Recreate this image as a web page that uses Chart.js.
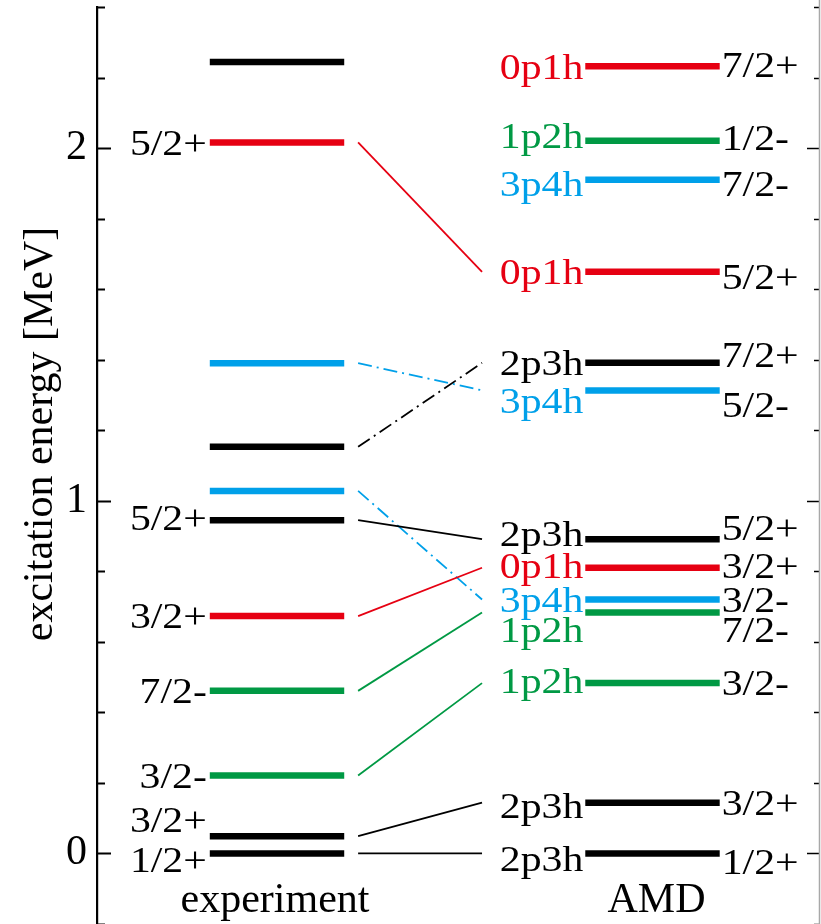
<!DOCTYPE html>
<html>
<head>
<meta charset="utf-8">
<script src="https://cdn.jsdelivr.net/npm/chart.js@4.4.0/dist/chart.umd.min.js"></script>
<style>
  html, body { margin: 0; padding: 0; background: #fff; }
  #wrap { width: 821px; height: 924px; }
</style>
</head>
<body>
<div id="wrap"><canvas id="grafico" width="821" height="924"></canvas></div>
<script>
// experimental levels [MeV], spin-parity and the configuration they are assigned to
const expEnergy = [0, 0.049, 0.221, 0.461, 0.673, 0.945, 1.028, 1.153, 1.390, 2.016, 2.244];
const expSpin   = ['1/2+', '3/2+', '3/2-', '7/2-', '3/2+', '5/2+', '', '', '', '5/2+', ''];
const expConfig = ['2p3h', '2p3h', '1p2h', '1p2h', '0p1h', '2p3h', '3p4h', '2p3h', '3p4h', '0p1h', ''];

// AMD levels [MeV]
const amdEnergy = [0, 0.144, 0.483, 0.683, 0.720, 0.810, 0.891, 1.313, 1.391, 1.649, 1.910, 2.021, 2.232];
const amdSpin   = ['1/2+', '3/2+', '3/2-', '7/2-', '3/2-', '3/2+', '5/2+', '5/2-', '7/2+', '5/2+', '7/2-', '1/2-', '7/2+'];
const amdConfig = ['2p3h', '2p3h', '1p2h', '1p2h', '3p4h', '0p1h', '2p3h', '3p4h', '2p3h', '0p1h', '3p4h', '1p2h', '0p1h'];

// experiment index -> AMD index
const links = [[0, 0], [1, 1], [2, 2], [3, 3], [4, 5], [5, 6], [6, 4], [7, 8], [8, 7], [9, 9]];

const yTicks = { min: -0.2, max: 2.4, step: 0.2 };

const colores = { '0p1h': '#e60012', '1p2h': '#009944', '2p3h': '#000000', '3p4h': '#00a0e9', '': '#000000' };

// layout (x in column units)
const EXP_X = 1, AMD_X = 2, BAR_HALF = 0.179, LINK_FROM = 1.216, LINK_TO = 1.546;
const LABEL_FONT = 36, LABEL_STRETCH = 1.16;
const SERIF = '"Liberation Serif", "Times New Roman", serif';

const datasets = [];
expEnergy.forEach((e, i) => {
    datasets.push({
        data: [{ x: EXP_X - BAR_HALF, y: e }, { x: EXP_X + BAR_HALF, y: e }],
        borderColor: colores[expConfig[i]],
        borderWidth: 6.5,
    });
});
amdEnergy.forEach((e, i) => {
    datasets.push({
        data: [{ x: AMD_X - BAR_HALF, y: e }, { x: AMD_X + BAR_HALF, y: e }],
        borderColor: colores[amdConfig[i]],
        borderWidth: 6.5,
    });
});
links.forEach(([a, b]) => {
    datasets.push({
        data: [{ x: LINK_FROM, y: expEnergy[a] }, { x: LINK_TO, y: amdEnergy[b] }],
        borderColor: colores[amdConfig[b]],
        borderWidth: 1.8,
        // unassigned experimental levels get dash-dot lines
        borderDash: expSpin[a] === '' ? [14, 5, 2, 5] : [],
    });
});

function textoEsticado(ctx, text, px, py, align, color) {
    ctx.save();
    ctx.translate(px, py);
    ctx.scale(LABEL_STRETCH, 1);
    ctx.font = LABEL_FONT + 'px ' + SERIF;
    ctx.textAlign = align;
    ctx.textBaseline = 'alphabetic';
    ctx.fillStyle = color;
    ctx.fillText(text, 0, 0);
    ctx.restore();
}

// small vertical nudges so crowded labels don't overlap (px)
const expNudge = [6, -16, 0, 0, 0, -2, 0, 0, 0, 0, 0];
const amdCfgNudge = [5, 3, -2, 17, 0, -2, -5, 10, 0, 0, 4, -5, 1];
const amdSpinNudge = [8, 0, 0, 17, 0, -2, -11, 14, -8, 5, 4, -3, -1];

const eixosENiveis = {
    id: 'eixosENiveis',
    afterDraw(chart) {
        const { ctx, chartArea, scales: { x, y } } = chart;
        const half = LABEL_FONT * 0.338;

        // tick marks pointing inward on both sides
        ctx.save();
        ctx.strokeStyle = '#000';
        for (let v = yTicks.min; v <= yTicks.max + 1e-9; v += yTicks.step) {
            const py = Math.round(y.getPixelForValue(v)) + 0.5;
            const major = Math.abs(v - Math.round(v)) < 1e-6;
            ctx.lineWidth = 2;
            ctx.beginPath();
            ctx.moveTo(chartArea.left, py);
            ctx.lineTo(chartArea.left + (major ? 14 : 8), py);
            ctx.stroke();
            ctx.lineWidth = 1.5;
            ctx.beginPath();
            ctx.moveTo(chartArea.right, py);
            ctx.lineTo(chartArea.right - (major ? 13 : 6), py);
            ctx.stroke();
        }
        // right frame line
        ctx.strokeStyle = '#a8a8a8';
        ctx.lineWidth = 1.5;
        ctx.beginPath();
        ctx.moveTo(chartArea.right - 0.5, 0);
        ctx.lineTo(chartArea.right - 0.5, chart.height);
        ctx.stroke();
        ctx.restore();

        // level labels
        const expLeft = x.getPixelForValue(EXP_X - BAR_HALF) - 3;
        expEnergy.forEach((e, i) => {
            if (!expSpin[i]) return;
            textoEsticado(ctx, expSpin[i], expLeft, y.getPixelForValue(e) + half + expNudge[i], 'right', '#000');
        });
        const amdLeft = x.getPixelForValue(AMD_X - BAR_HALF) - 2;
        const amdRight = x.getPixelForValue(AMD_X + BAR_HALF) + 2;
        amdEnergy.forEach((e, i) => {
            const py = y.getPixelForValue(e) + half;
            textoEsticado(ctx, amdConfig[i], amdLeft, py + amdCfgNudge[i], 'right', colores[amdConfig[i]]);
            textoEsticado(ctx, amdSpin[i], amdRight, py + amdSpinNudge[i], 'left', '#000');
        });

        // column names and axis title
        ctx.save();
        ctx.fillStyle = '#000';
        ctx.font = '42px ' + SERIF;
        ctx.textAlign = 'center';
        ctx.textBaseline = 'alphabetic';
        ctx.fillText('experiment', x.getPixelForValue(EXP_X) - 2, 912);
        ctx.fillText('AMD', x.getPixelForValue(AMD_X) + 4, 912);
        ctx.translate(41, 434);
        ctx.rotate(-Math.PI / 2);
        ctx.textBaseline = 'middle';
        ctx.fillText('excitation energy [MeV]', 0, 0);
        ctx.restore();
    }
};

const ctx = document.getElementById('grafico').getContext('2d');
new Chart(ctx, {
    type: 'line',
    data: { datasets },
    options: {
        responsive: false,
        animation: false,
        devicePixelRatio: 1,
        layout: { padding: { top: 7, right: 1, bottom: 0, left: 0 } },
        elements: {
            point: { radius: 0, hoverRadius: 0 },
            line: { tension: 0, fill: false, borderCapStyle: 'butt' },
        },
        plugins: { legend: { display: false }, tooltip: { enabled: false } },
        events: [],
        scales: {
            x: { type: 'linear', min: 0.5206, max: 2.4461, display: false },
            y: {
                type: 'linear',
                min: yTicks.min,
                max: yTicks.max,
                afterFit: (scale) => {
                    scale.width = 97;
                    scale.paddingTop = 0;
                    scale.paddingBottom = 0;
                },
                grid: { display: false, drawTicks: false },
                border: { display: true, color: '#000', width: 2.2 },
                ticks: {
                    stepSize: yTicks.step,
                    autoSkip: false,
                    padding: 10,
                    color: '#000',
                    font: { family: SERIF, size: 42 },
                    callback: (v) => Math.abs(v - Math.round(v)) < 1e-6 ? String(Math.round(v)) : '',
                },
            },
        },
    },
    plugins: [eixosENiveis],
});
</script>
</body>
</html>
